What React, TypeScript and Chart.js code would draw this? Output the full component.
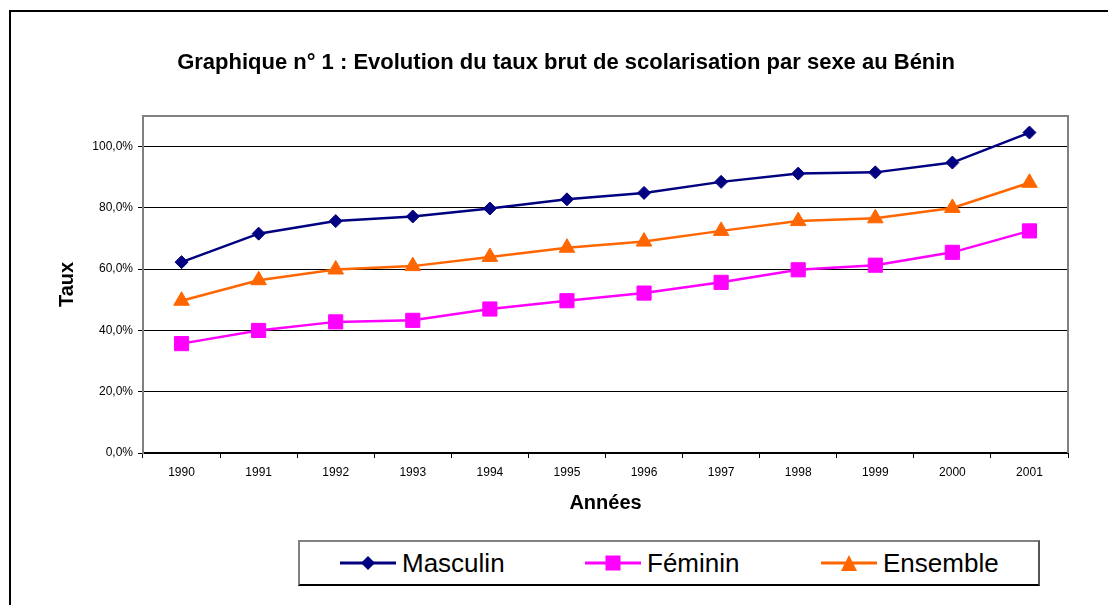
import React, { useEffect, useRef } from "react";
import { Chart, registerables } from "chart.js";

Chart.register(...registerables);

const years = ["1990", "1991", "1992", "1993", "1994", "1995", "1996", "1997", "1998", "1999", "2000", "2001"];
const masculin = [62.3, 71.6, 75.7, 77.2, 79.8, 82.8, 84.9, 88.5, 91.2, 91.6, 94.8, 104.6];
const feminin = [35.7, 40.0, 42.8, 43.3, 47.0, 49.7, 52.2, 55.7, 59.8, 61.3, 65.5, 72.5];
const ensemble = [49.7, 56.4, 59.9, 61.0, 64.0, 67.0, 69.0, 72.5, 75.7, 76.6, 80.0, 88.2];
const yTickValues = [0, 20, 40, 60, 80, 100];

const FONT = "'Liberation Sans', Arial, Helvetica, sans-serif";
const NAVY = "#000080";
const MAGENTA = "#FF00FF";
const ORANGE = "#FF6600";

const framePlugin = {
  id: "plotFrame",
  beforeDatasetsDraw(chart: any) {
    const { ctx, chartArea } = chart;
    ctx.save();
    ctx.strokeStyle = "#808080";
    ctx.lineWidth = 2;
    ctx.beginPath();
    ctx.moveTo(chartArea.left, chartArea.top);
    ctx.lineTo(chartArea.right, chartArea.top);
    ctx.lineTo(chartArea.right, chartArea.bottom);
    ctx.stroke();
    ctx.restore();
  },
};

function LegendIcon({ color, shape }: { color: string; shape: string }) {
  let marker: any = null;
  if (shape === "diamond") marker = <polygon points="28,3 35,10 28,17 21,10" fill={color} />;
  if (shape === "square") marker = <rect x={20.5} y={2.5} width={15} height={15} fill={color} />;
  if (shape === "triangle") marker = <polygon points="28,2 36,18 20,18" fill={color} />;
  return (
    <svg width={56} height={20} style={{ display: "block" }}>
      <line x1={0} y1={10} x2={56} y2={10} stroke={color} strokeWidth={3} />
      {marker}
    </svg>
  );
}

export default function App() {
  const ref = useRef<HTMLCanvasElement>(null);

  useEffect(() => {
    if (!ref.current) return;
    Chart.defaults.font.family = FONT;
    const chart = new Chart(ref.current, {
      type: "line",
      data: {
        labels: years,
        datasets: [
          {
            label: "Masculin",
            data: masculin,
            borderColor: NAVY,
            backgroundColor: NAVY,
            borderWidth: 2.5,
            pointStyle: "rectRot",
            pointRadius: 6.5,
            pointBorderWidth: 1,
            tension: 0,
          },
          {
            label: "Féminin",
            data: feminin,
            borderColor: MAGENTA,
            backgroundColor: MAGENTA,
            borderWidth: 2.5,
            pointStyle: "rect",
            pointRadius: 10,
            pointBorderWidth: 1,
            tension: 0,
          },
          {
            label: "Ensemble",
            data: ensemble,
            borderColor: ORANGE,
            backgroundColor: ORANGE,
            borderWidth: 2.5,
            pointStyle: "triangle",
            pointRadius: 9,
            pointBorderWidth: 1,
            tension: 0,
          },
        ],
      },
      options: {
        responsive: false,
        animation: false,
        layout: { padding: { left: 0, right: 0, top: 0, bottom: 15 } },
        plugins: {
          legend: { display: false },
          tooltip: { enabled: false },
          title: {
            display: true,
            text: "Graphique n° 1 : Evolution du taux brut de scolarisation par sexe au Bénin",
            color: "#000",
            font: { size: 22, weight: "bold", family: FONT },
            padding: { top: 49.3, bottom: 40.3 },
          },
        },
        scales: {
          x: {
            type: "category",
            offset: true,
            grid: { offset: true, drawOnChartArea: false, drawTicks: true, tickLength: 5, color: "#000" },
            border: { color: "#000", width: 2 },
            ticks: { color: "#000", font: { size: 12, family: FONT }, padding: 7, maxRotation: 0, autoSkip: false },
            title: {
              display: true,
              text: "Années",
              color: "#000",
              font: { size: 20, weight: "bold", family: FONT },
              padding: { top: 11.6, bottom: 0 },
            },
            afterFit: (s: any) => {
              s.height = 62;
            },
          },
          y: {
            min: 0,
            max: 110,
            afterBuildTicks: (s: any) => {
              s.ticks = yTickValues.map((v) => ({ value: v }));
            },
            grid: { color: "#000", lineWidth: 1, tickLength: 5, drawTicks: true },
            border: { color: "#808080", width: 2 },
            ticks: {
              color: "#000",
              font: { size: 12, family: FONT },
              padding: 5,
              callback: (v: any) => Number(v).toFixed(1).replace(".", ",") + "%",
            },
            title: {
              display: true,
              text: "Taux",
              color: "#000",
              font: { size: 20, weight: "bold", family: FONT },
              padding: { top: 31.5, bottom: 0 },
            },
            afterFit: (s: any) => {
              s.width = 119;
            },
          },
          yRight: {
            type: "linear",
            position: "right",
            display: true,
            grid: { display: false, drawTicks: false },
            border: { display: false },
            ticks: { display: false },
            afterFit: (s: any) => {
              s.width = 40;
            },
          },
        },
      } as any,
      plugins: [framePlugin],
    });
    return () => chart.destroy();
  }, []);

  const items = [
    { label: "Masculin", color: NAVY, shape: "diamond", left: 42 },
    { label: "Féminin", color: MAGENTA, shape: "square", left: 287 },
    { label: "Ensemble", color: ORANGE, shape: "triangle", left: 523 },
  ];

  return (
    <div
      style={{
        position: "fixed",
        left: 0,
        top: 0,
        width: 1108,
        height: 605,
        overflow: "hidden",
        background: "#fff",
        fontFamily: FONT,
      }}
    >
      <div
        style={{
          position: "absolute",
          left: 9,
          top: 10,
          width: 1300,
          height: 800,
          border: "2px solid #000",
          boxSizing: "border-box",
        }}
      />
      <canvas
        ref={ref}
        width={1084}
        height={530}
        style={{ position: "absolute", left: 24, top: 0, width: 1084, height: 530 }}
      />
      <div
        style={{
          position: "absolute",
          left: 298,
          top: 540,
          width: 742,
          height: 46,
          boxSizing: "border-box",
          borderTop: "2px solid #808080",
          borderLeft: "2px solid #808080",
          borderBottom: "2px solid #000",
          borderRight: "2px solid #555",
          background: "#fff",
        }}
      >
        {items.map((it) => (
          <div
            key={it.label}
            style={{
              position: "absolute",
              left: it.left - 2,
              top: 0,
              height: 42,
              display: "flex",
              alignItems: "center",
            }}
          >
            <LegendIcon color={it.color} shape={it.shape} />
            <span style={{ marginLeft: 6, fontSize: 26, color: "#000", lineHeight: "30px" }}>{it.label}</span>
          </div>
        ))}
      </div>
    </div>
  );
}
